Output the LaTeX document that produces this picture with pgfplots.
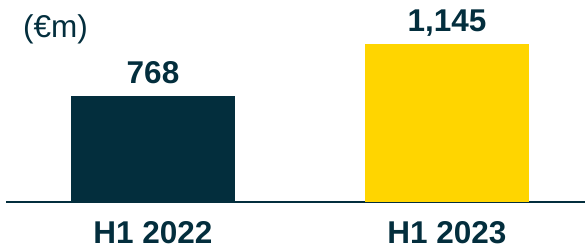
\documentclass[border=0pt]{standalone}
\usepackage{pgfplots}
\pgfplotsset{compat=1.18}
\usepackage{fontspec}
\setmainfont{Liberation Sans}
\definecolor{navy}{RGB}{3,46,61}
\definecolor{gold}{RGB}{255,213,0}
\begin{document}
\begin{tikzpicture}[x=1bp,y=1bp]
\useasboundingbox (0,0) rectangle (585,247);
\node[anchor=base west, inner sep=0, text=navy, font=\fontsize{31.5bp}{36bp}\selectfont] at (23,210) {(€m)};
\begin{axis}[
  at={(6bp,45bp)}, anchor=south west,
  x=294bp, y=0.138bp,
  xmin=-0.5, xmax=1.4694, ymin=0, ymax=1400,
  axis y line=none, axis x line=bottom,
  x axis line style={-, draw=navy, line width=2bp},
  xtick={0,1}, xticklabels={H1 2022, H1 2023}, major tick length=0pt,
  xticklabel style={font=\bfseries\fontsize{31.5bp}{36bp}\selectfont, text=navy, anchor=base, yshift=-41.5bp, inner sep=0pt},
  ybar, bar width=164bp, bar shift=0pt,
  nodes near coords, point meta=explicit symbolic,
  every node near coord/.append style={font=\bfseries\fontsize{31.5bp}{36bp}\selectfont, text=navy, anchor=base, yshift=13bp, inner sep=0pt},
  clip=false
]
\addplot[fill=navy, draw=none] coordinates {(0,768) [768]};
\addplot[fill=gold, draw=none] coordinates {(1,1145) [1,145]};
\end{axis}
\end{tikzpicture}
\end{document}
